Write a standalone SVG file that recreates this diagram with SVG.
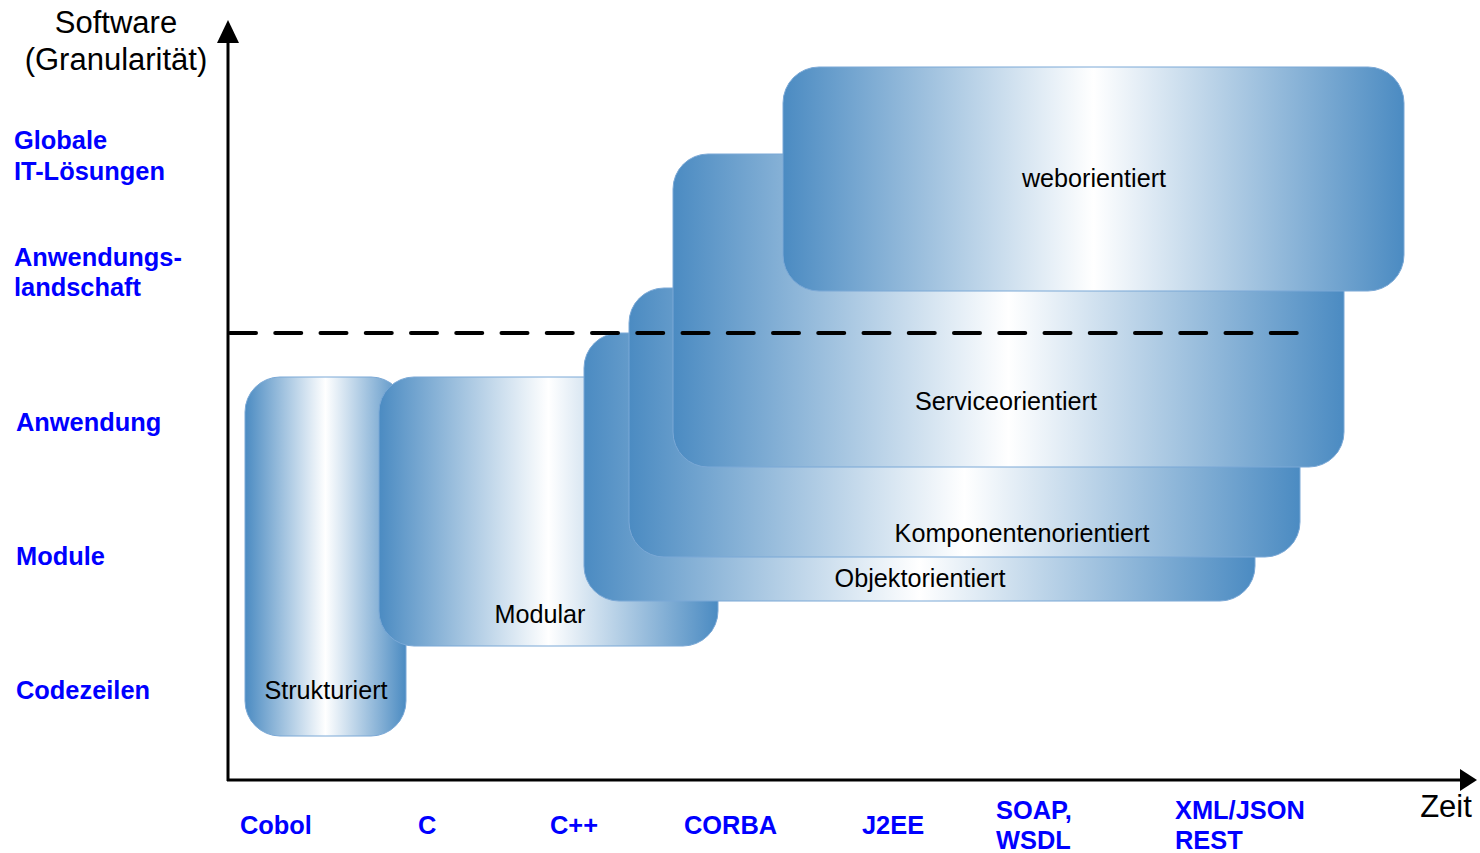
<svg xmlns="http://www.w3.org/2000/svg" width="1480" height="853" viewBox="0 0 1480 853">
<defs>
<linearGradient id="g" x1="0" y1="0" x2="1" y2="0">
<stop offset="0" stop-color="#4b8bc2"/>
<stop offset="0.5" stop-color="#ffffff"/>
<stop offset="1" stop-color="#4b8bc2"/>
</linearGradient>
</defs>
<style>
.box{fill:url(#g);stroke:#7aa8d6;stroke-width:1}
.bt{font-family:"Liberation Sans",Arial,sans-serif;font-size:25.2px;fill:#000;text-anchor:middle}
.lbl{font-family:"Liberation Sans",Arial,sans-serif;font-size:25.4px;font-weight:bold;fill:#0000ff}
.ax{font-family:"Liberation Sans",Arial,sans-serif;font-size:31px;fill:#000}
.axis{stroke:#000;stroke-width:3;fill:none}
</style>
<rect width="1480" height="853" fill="#fff"/>
<g id="strukturiert"><rect class="box" x="245" y="377" width="161" height="359" rx="35"/><text class="bt" x="326" y="699">Strukturiert</text></g>
<g id="modular"><rect class="box" x="379" y="377" width="339" height="269" rx="35"/><text class="bt" x="540" y="623">Modular</text></g>
<g id="objektorientiert"><rect class="box" x="584" y="333" width="671" height="268" rx="35"/><text class="bt" x="920" y="587">Objektorientiert</text></g>
<g id="komponentenorientiert"><rect class="box" x="629" y="288" width="671" height="269" rx="35"/><text class="bt" x="1022" y="542">Komponentenorientiert</text></g>
<g id="serviceorientiert"><rect class="box" x="673" y="154" width="671" height="313" rx="35"/><text class="bt" x="1006" y="410">Serviceorientiert</text></g>
<g id="weborientiert"><rect class="box" x="783" y="67" width="621" height="224" rx="36"/><text class="bt" x="1094" y="187">weborientiert</text></g>
<g id="connectors">
<line x1="230" y1="333" x2="1300" y2="333" stroke="#000" stroke-width="4" stroke-linecap="round" stroke-dasharray="26 19.25"/>
<line class="axis" x1="228" y1="781" x2="228" y2="40"/>
<polygon points="228,20 217,43 239,43" fill="#000"/>
<line class="axis" x1="227" y1="780" x2="1462" y2="780"/>
<polygon points="1477,780 1460,769 1460,791" fill="#000"/>
</g>
<g id="axis-labels">
<text class="ax" x="116" y="33" text-anchor="middle">Software</text>
<text class="ax" x="116" y="70" text-anchor="middle">(Granularität)</text>
<text class="ax" x="1446" y="817" text-anchor="middle">Zeit</text>
</g>
<g id="y-labels">
<text class="lbl" x="14" y="149">Globale</text>
<text class="lbl" x="14" y="180">IT-Lösungen</text>
<text class="lbl" x="14" y="266">Anwendungs-</text>
<text class="lbl" x="14" y="296">landschaft</text>
<text class="lbl" x="16" y="431">Anwendung</text>
<text class="lbl" x="16" y="565">Module</text>
<text class="lbl" x="16" y="699">Codezeilen</text>
</g>
<g id="x-labels">
<text class="lbl" x="240" y="834">Cobol</text>
<text class="lbl" x="418" y="834">C</text>
<text class="lbl" x="550" y="834">C++</text>
<text class="lbl" x="684" y="834">CORBA</text>
<text class="lbl" x="862" y="834">J2EE</text>
<text class="lbl" x="996" y="819">SOAP,</text>
<text class="lbl" x="996" y="849">WSDL</text>
<text class="lbl" x="1175" y="819">XML/JSON</text>
<text class="lbl" x="1175" y="849">REST</text>
</g>
</svg>
